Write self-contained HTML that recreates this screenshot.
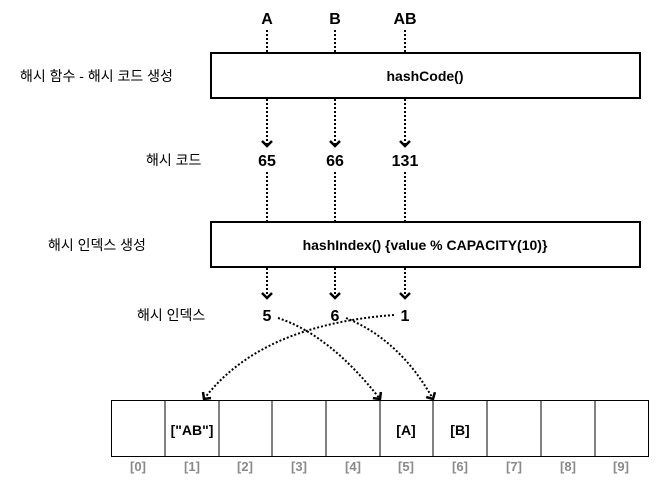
<!DOCTYPE html>
<html><head><meta charset="utf-8"><style>
body{margin:0;background:#fff;width:657px;height:483px;overflow:hidden}
svg text{font-family:"Liberation Sans","Noto Sans CJK KR",sans-serif;fill:#000}
svg text.g{fill:#8a8a8a}
</style></head><body>
<svg width="657" height="483" viewBox="0 0 657 483" xmlns="http://www.w3.org/2000/svg">
<defs><marker id="ar" markerWidth="14" markerHeight="14" refX="6" refY="6" orient="auto" markerUnits="userSpaceOnUse"><path d="M1,1 L6,6 L1,11" fill="none" stroke="#000" stroke-width="2.5"/></marker></defs>
<g font-size="16" font-weight="bold" text-anchor="middle">
<text x="267" y="24">A</text><text x="335" y="24">B</text><text x="405" y="24">AB</text>
<text x="267" y="166">65</text><text x="335" y="166">66</text><text x="405" y="166">131</text>
<text x="267" y="321">5</text><text x="335" y="321">6</text><text x="405" y="321">1</text>
</g>
<g stroke="#000" stroke-width="2" stroke-dasharray="2,2" fill="none">
<line x1="267" y1="30" x2="267" y2="53"/><line x1="335" y1="30" x2="335" y2="53"/><line x1="405" y1="30" x2="405" y2="53"/>
<line x1="267" y1="99" x2="267" y2="146" marker-end="url(#ar)"/><line x1="335" y1="99" x2="335" y2="146" marker-end="url(#ar)"/><line x1="405" y1="99" x2="405" y2="146" marker-end="url(#ar)"/>
<line x1="267" y1="172" x2="267" y2="222"/><line x1="335" y1="172" x2="335" y2="222"/><line x1="405" y1="172" x2="405" y2="222"/>
<line x1="267" y1="268" x2="267" y2="298" marker-end="url(#ar)"/><line x1="335" y1="268" x2="335" y2="298" marker-end="url(#ar)"/><line x1="405" y1="268" x2="405" y2="298" marker-end="url(#ar)"/>
<path d="M278,318 Q330,335 380,399" marker-end="url(#ar)"/>
<path d="M346,318 Q400,340 433,399" marker-end="url(#ar)"/>
<path d="M394,315 Q260,325 204,399" marker-end="url(#ar)"/>
</g>
<rect x="211" y="53" width="429" height="45" fill="#fff" stroke="#000" stroke-width="2"/>
<rect x="211" y="222" width="429" height="45" fill="#fff" stroke="#000" stroke-width="2"/>
<g font-size="14" font-weight="bold" text-anchor="middle">
<text x="425" y="81">hashCode()</text>
<text x="425" y="250">hashIndex() {value % CAPACITY(10)}</text>
</g>
<g font-size="14">
<text x="20" y="81">해시 함수 - 해시 코드 생성</text>
<text x="146" y="165">해시 코드</text>
<text x="48" y="250">해시 인덱스 생성</text>
<text x="137" y="320">해시 인덱스</text>
</g>
<g fill="#fff" stroke="#000" stroke-width="1">
<rect x="111.5" y="400.5" width="537" height="56"/>
<line x1="165" y1="400" x2="165" y2="457"/><line x1="219" y1="400" x2="219" y2="457"/><line x1="272" y1="400" x2="272" y2="457"/><line x1="326" y1="400" x2="326" y2="457"/><line x1="380" y1="400" x2="380" y2="457"/><line x1="433" y1="400" x2="433" y2="457"/><line x1="487" y1="400" x2="487" y2="457"/><line x1="541" y1="400" x2="541" y2="457"/><line x1="595" y1="400" x2="595" y2="457"/>
</g>
<g font-size="14" font-weight="bold" text-anchor="middle">
<text x="192" y="435">["AB"]</text><text x="406" y="435">[A]</text><text x="460" y="435">[B]</text>
</g>
<g font-size="13" font-weight="bold" text-anchor="middle">
<text class="g" x="138" y="471">[0]</text><text class="g" x="192" y="471">[1]</text><text class="g" x="245" y="471">[2]</text><text class="g" x="299" y="471">[3]</text><text class="g" x="353" y="471">[4]</text><text class="g" x="406" y="471">[5]</text><text class="g" x="460" y="471">[6]</text><text class="g" x="514" y="471">[7]</text><text class="g" x="568" y="471">[8]</text><text class="g" x="621" y="471">[9]</text>
</g>
</svg>
</body></html>
